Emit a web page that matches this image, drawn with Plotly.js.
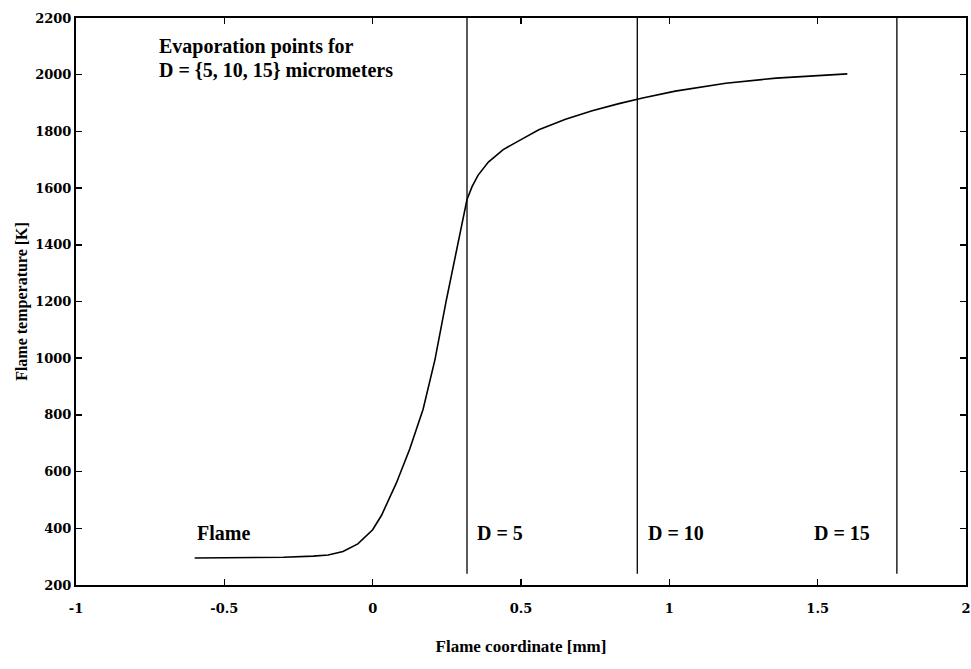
<!DOCTYPE html>
<html>
<head>
<meta charset="utf-8">
<script src="https://cdn.plot.ly/plotly-3.0.1.min.js"></script>
<style>html,body{margin:0;padding:0;background:#fff;}#chart{width:971px;height:669px;}</style>
</head>
<body>
<div id="chart"></div>
<script>
// Flame temperature profile
var flameX = [-0.6, -0.4, -0.3, -0.2, -0.15, -0.1, -0.05, 0, 0.03, 0.08, 0.125, 0.17, 0.21, 0.247, 0.28, 0.318, 0.335, 0.355, 0.39, 0.44, 0.5, 0.56, 0.65, 0.74, 0.83, 0.91, 1.02, 1.19, 1.36, 1.5, 1.6];
var flameT = [295, 296, 298, 302, 306, 318, 345, 395, 446, 560, 680, 820, 995, 1198, 1365, 1560, 1605, 1645, 1692, 1736, 1771, 1806, 1843, 1873, 1898, 1918, 1942, 1970, 1988, 1998, 2003];
// Evaporation points
var evapLabels = ["D = 5", "D = 10", "D = 15"];
var evapX = [0.318, 0.892, 1.767];
var evapLineBottom = 240;
var evapLineTop = 2200;
var evapLabelX = [0.345, 0.922, 1.48];
var labelY = 385;
var xTicks = [-1, -0.5, 0, 0.5, 1, 1.5, 2];
var yTicks = [200, 400, 600, 800, 1000, 1200, 1400, 1600, 1800, 2000, 2200];

var serif = "Liberation Serif, Times New Roman, serif";
var tickFont = "DejaVu Serif, serif";
var traces = [{
  x: flameX, y: flameT, mode: "lines", type: "scatter",
  line: {color: "#000", width: 1.6}, hoverinfo: "skip", showlegend: false
}];
evapX.forEach(function (xv) {
  traces.push({
    x: [xv, xv], y: [evapLineBottom, evapLineTop], mode: "lines", type: "scatter",
    line: {color: "#000", width: 1.3}, hoverinfo: "skip", showlegend: false
  });
});

var annFont = {family: serif, size: 20, color: "#000", weight: "bold"};
var annotations = [
  {x: -0.726, y: 2098, xref: "x", yref: "y", text: "Evaporation points for", showarrow: false, xanchor: "left", yanchor: "middle", font: annFont},
  {x: -0.726, y: 2017, xref: "x", yref: "y", text: "D = {5, 10, 15} micrometers", showarrow: false, xanchor: "left", yanchor: "middle", font: annFont},
  {x: -0.6, y: labelY, xref: "x", yref: "y", text: "Flame", showarrow: false, xanchor: "left", yanchor: "middle", font: annFont}
];
evapLabels.forEach(function (t, i) {
  annotations.push({x: evapLabelX[i], y: labelY, xref: "x", yref: "y", text: t, showarrow: false, xanchor: "left", yanchor: "middle", font: annFont});
});

var layout = {
  width: 971, height: 669,
  margin: {l: 76, r: 5, t: 18, b: 84},
  paper_bgcolor: "#fff", plot_bgcolor: "#fff",
  font: {family: serif, color: "#000", size: 14},
  xaxis: {
    range: [-1, 2], tickvals: xTicks, ticktext: xTicks.map(String),
    ticks: "inside", ticklen: 6, tickwidth: 1.5, tickcolor: "#000",
    showline: true, linecolor: "#000", linewidth: 2, mirror: "ticks",
    showgrid: false, zeroline: false,
    ticklabelstandoff: 10,
    tickfont: {family: tickFont, size: 13, color: "#000", weight: "bold"},
    title: {text: "Flame coordinate [mm]", font: {family: serif, size: 17, color: "#000", weight: "bold"}, standoff: 26}
  },
  yaxis: {
    range: [200, 2200], tickvals: yTicks, ticktext: yTicks.map(String),
    ticks: "inside", ticklen: 6, tickwidth: 1.5, tickcolor: "#000",
    showline: true, linecolor: "#000", linewidth: 2, mirror: "ticks",
    showgrid: false, zeroline: false,
    tickfont: {family: tickFont, size: 13, color: "#000", weight: "bold"},
    title: {text: "Flame temperature [K]", font: {family: serif, size: 16, color: "#000", weight: "bold"}, standoff: 4}
  },
  annotations: annotations
};
Plotly.newPlot("chart", traces, layout, {staticPlot: true, displayModeBar: false});
</script>
</body>
</html>
